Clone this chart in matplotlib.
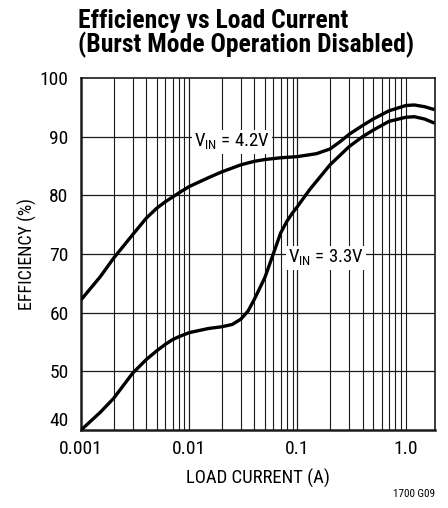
import matplotlib
matplotlib.use('Agg')
import matplotlib.pyplot as plt
from matplotlib import font_manager

# look for a narrow / condensed sans, the chart uses one
FONT = 'Liberation Sans'
STRETCH = 'normal'
names = set(f.name for f in font_manager.fontManager.ttflist)
for cand in ['Liberation Sans Narrow', 'Roboto Condensed', 'Open Sans Condensed']:
    if cand in names:
        FONT = cand
        break
else:
    for f in font_manager.fontManager.ttflist:
        if f.name == 'DejaVu Sans' and ('ondensed' in f.fname):
            FONT = 'DejaVu Sans'
            STRETCH = 'condensed'
            break

plt.rcParams['font.family'] = [FONT, 'DejaVu Sans']
plt.rcParams['font.stretch'] = STRETCH
plt.rcParams['mathtext.fontset'] = 'custom'
plt.rcParams['mathtext.rm'] = FONT + ':stretch=' + STRETCH

# data
load_42 = [0.001, 0.0015, 0.002, 0.003, 0.004, 0.005, 0.006, 0.007, 0.008, 0.01,
           0.015, 0.02, 0.03, 0.04, 0.05, 0.07, 0.1, 0.15, 0.2, 0.25, 0.3, 0.4,
           0.5, 0.7, 1.0, 1.2, 1.5, 1.85]
eff_42 = [62.2, 66.1, 69.3, 73.3, 76.1, 77.8, 78.9, 79.7, 80.4, 81.5,
          83.0, 84.0, 85.2, 85.8, 86.1, 86.4, 86.6, 87.1, 87.9, 89.2, 90.4, 91.9,
          93.0, 94.4, 95.3, 95.4, 95.1, 94.6]

load_33 = [0.001, 0.0015, 0.002, 0.003, 0.004, 0.005, 0.006, 0.007, 0.008, 0.01,
           0.015, 0.02, 0.025, 0.03, 0.035, 0.04, 0.05, 0.06, 0.07, 0.08, 0.09,
           0.1, 0.13, 0.2, 0.3, 0.4, 0.5, 0.7, 1.0, 1.2, 1.5, 1.85]
eff_33 = [40.0, 43.0, 45.4, 49.7, 52.0, 53.5, 54.6, 55.4, 55.9, 56.6,
          57.3, 57.6, 58.0, 58.9, 60.3, 62.3, 66.0, 70.1, 73.6, 75.6, 77.0,
          78.1, 81.0, 85.2, 88.3, 90.0, 91.1, 92.6, 93.3, 93.4, 93.0, 92.3]

x_ticks = [0.001, 0.01, 0.1, 1.0]
x_ticklabels = ['0.001', '0.01', '0.1', '1.0']
y_ticks = [40, 50, 60, 70, 80, 90, 100]

fig = plt.figure(figsize=(4.48, 5.08), dpi=100)
ax = fig.add_axes([0.181, 0.1535, 0.789, 0.693])

ax.set_xscale('log')
ax.set_xlim(0.001, 1.85)
ax.set_ylim(40, 100)

# grid: every decade + 2..9
for dec in [0.001, 0.01, 0.1]:
    for m in range(1, 11):
        v = dec * m
        if v > 0.001 and v <= 1.0:
            ax.axvline(v, color='#1a1a1a', lw=0.8, zorder=1)
for yv in [50, 60, 70, 80, 90]:
    ax.axhline(yv, color='#1a1a1a', lw=0.9, zorder=1)

ax.plot(load_42, eff_42, color='black', lw=2.4, zorder=3, solid_capstyle='butt')
ax.plot(load_33, eff_33, color='black', lw=2.4, zorder=3, solid_capstyle='butt')

box = dict(facecolor='white', edgecolor='none', pad=1.5)
ax.text(0.025, 88.3, r'V$_{\mathrm{IN}}$ = 4.2V', fontsize=13.5, ha='center',
        va='baseline', bbox=box, zorder=4)
ax.text(0.185, 68.5, r'V$_{\mathrm{IN}}$ = 3.3V', fontsize=13.5, ha='center',
        va='baseline', bbox=box, zorder=4)

ax.set_xticks(x_ticks)
ax.set_xticklabels(x_ticklabels)
ax.xaxis.set_minor_locator(matplotlib.ticker.NullLocator())
ax.set_yticks(y_ticks)
ax.tick_params(axis='both', length=0, labelsize=14)
ax.tick_params(axis='y', pad=9)
ax.tick_params(axis='x', pad=7)
# the "40" sits just above the corner in the original
ax.yaxis.get_major_ticks()[0].label1.set_verticalalignment('bottom')

ax.spines['left'].set_linewidth(1.8)
ax.spines['bottom'].set_linewidth(1.8)
ax.spines['top'].set_linewidth(1.2)
ax.spines['right'].set_linewidth(1.2)
for s in ax.spines.values():
    s.set_color('#1a1a1a')

ax.set_xlabel('LOAD CURRENT (A)', fontsize=13.5, labelpad=8)
ax.set_ylabel('EFFICIENCY (%)', fontsize=13, labelpad=2)

title1 = fig.text(0.174, 0.945, 'Efficiency vs Load Current', fontsize=19,
                  fontweight='bold', ha='left', va='baseline')
title2 = fig.text(0.174, 0.897, '(Burst Mode Operation Disabled)', fontsize=19,
                  fontweight='bold', ha='left', va='baseline')
fig.text(0.97, 0.022, '1700 G09', fontsize=8, ha='right', va='baseline')

# keep the title as wide as in the original (about 337 px for line 2)
fig.canvas.draw()
r = fig.canvas.get_renderer()
w = title2.get_window_extent(r).width
if w > 337:
    k = 337.0 / w
    title1.set_fontsize(19 * k)
    title2.set_fontsize(19 * k)

plt.savefig('out.png', dpi=100)
